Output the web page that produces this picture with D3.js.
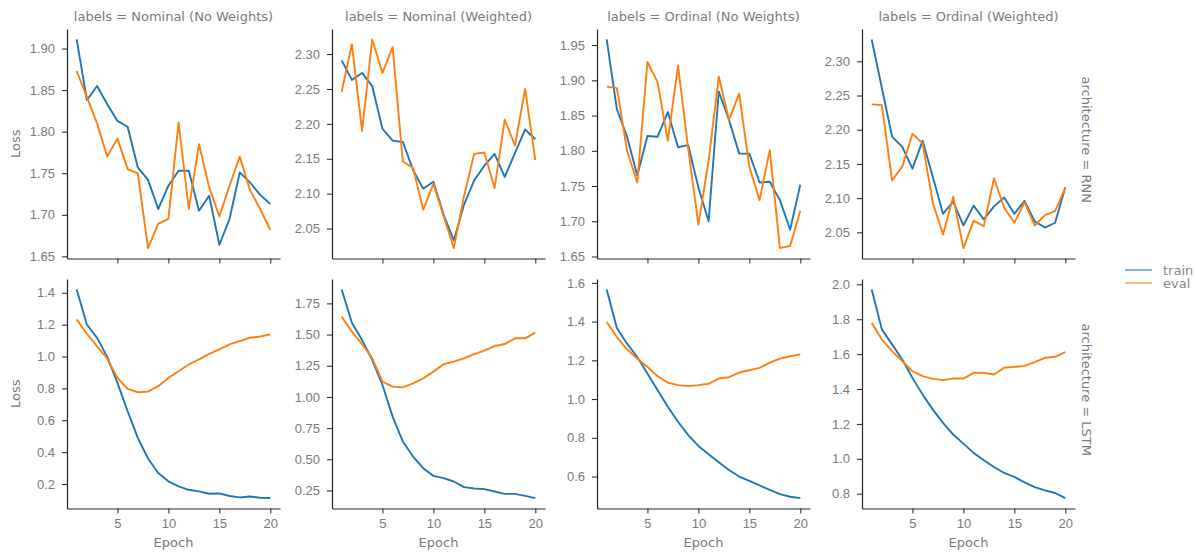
<!DOCTYPE html>
<html>
<head>
<meta charset="utf-8">
<script src="https://cdn.jsdelivr.net/npm/d3@7"></script>
<style>
  body { margin: 0; background: #fff; }
  svg { display: block; font-family: "DejaVu Sans", sans-serif; }
</style>
</head>
<body>
<svg id="chart" width="1196" height="553"></svg>
<script>
const epochs = [1, 2, 3, 4, 5, 6, 7, 8, 9, 10, 11, 12, 13, 14, 15, 16, 17, 18, 19, 20];
const xTicks = [5, 10, 15, 20];
const colNames = ["Nominal (No Weights)", "Nominal (Weighted)", "Ordinal (No Weights)", "Ordinal (Weighted)"];
const rowNames = ["RNN", "LSTM"];
const seriesNames = ["train", "eval"];

// RNN row
const rnnNomNoW_train = [1.911, 1.838, 1.855, 1.833, 1.813, 1.806, 1.757, 1.742, 1.707, 1.735, 1.753, 1.753, 1.705, 1.723, 1.664, 1.695, 1.751, 1.739, 1.724, 1.713];
const rnnNomNoW_eval  = [1.873, 1.842, 1.810, 1.770, 1.792, 1.755, 1.750, 1.660, 1.689, 1.695, 1.811, 1.707, 1.785, 1.733, 1.698, 1.735, 1.770, 1.730, 1.707, 1.682];
const rnnNomW_train   = [2.291, 2.263, 2.273, 2.254, 2.193, 2.176, 2.174, 2.134, 2.107, 2.117, 2.070, 2.033, 2.084, 2.119, 2.140, 2.157, 2.124, 2.158, 2.192, 2.178];
const rnnNomW_eval    = [2.246, 2.314, 2.190, 2.321, 2.273, 2.310, 2.146, 2.137, 2.077, 2.114, 2.068, 2.022, 2.096, 2.157, 2.159, 2.108, 2.206, 2.169, 2.250, 2.148];
const rnnOrdNoW_train = [1.958, 1.859, 1.820, 1.765, 1.821, 1.820, 1.855, 1.805, 1.808, 1.748, 1.700, 1.884, 1.844, 1.796, 1.796, 1.755, 1.756, 1.730, 1.688, 1.752];
const rnnOrdNoW_eval  = [1.891, 1.889, 1.800, 1.755, 1.926, 1.897, 1.814, 1.921, 1.803, 1.695, 1.786, 1.905, 1.844, 1.881, 1.777, 1.730, 1.801, 1.662, 1.665, 1.715];
const rnnOrdW_train   = [2.332, 2.261, 2.190, 2.175, 2.143, 2.184, 2.131, 2.077, 2.095, 2.060, 2.089, 2.069, 2.088, 2.101, 2.077, 2.096, 2.066, 2.057, 2.064, 2.116];
const rnnOrdW_eval    = [2.237, 2.236, 2.126, 2.146, 2.194, 2.180, 2.093, 2.047, 2.102, 2.027, 2.067, 2.059, 2.129, 2.086, 2.064, 2.094, 2.060, 2.075, 2.081, 2.115];

// LSTM row
const lstmNomNoW_train = [1.421, 1.201, 1.117, 0.998, 0.835, 0.657, 0.490, 0.360, 0.269, 0.217, 0.185, 0.164, 0.154, 0.139, 0.141, 0.125, 0.116, 0.122, 0.114, 0.112];
const lstmNomNoW_eval  = [1.233, 1.143, 1.065, 0.986, 0.866, 0.797, 0.776, 0.780, 0.814, 0.866, 0.908, 0.950, 0.982, 1.017, 1.045, 1.076, 1.097, 1.118, 1.126, 1.139];
const lstmNomW_train   = [1.862, 1.595, 1.456, 1.296, 1.096, 0.842, 0.642, 0.522, 0.429, 0.367, 0.349, 0.322, 0.277, 0.266, 0.261, 0.242, 0.223, 0.223, 0.207, 0.189];
const lstmNomW_eval    = [1.643, 1.523, 1.424, 1.309, 1.122, 1.083, 1.077, 1.109, 1.149, 1.203, 1.262, 1.283, 1.309, 1.344, 1.371, 1.408, 1.424, 1.470, 1.470, 1.515];
const lstmOrdNoW_train = [1.566, 1.367, 1.286, 1.217, 1.132, 1.046, 0.960, 0.883, 0.814, 0.758, 0.715, 0.674, 0.634, 0.600, 0.578, 0.554, 0.531, 0.509, 0.496, 0.489];
const lstmOrdNoW_eval  = [1.398, 1.320, 1.257, 1.209, 1.166, 1.118, 1.085, 1.072, 1.067, 1.072, 1.079, 1.106, 1.113, 1.137, 1.149, 1.161, 1.188, 1.209, 1.221, 1.231];
const lstmOrdW_train   = [1.971, 1.742, 1.656, 1.569, 1.464, 1.368, 1.282, 1.206, 1.139, 1.087, 1.034, 0.992, 0.953, 0.919, 0.896, 0.865, 0.838, 0.819, 0.804, 0.775];
const lstmOrdW_eval    = [1.780, 1.684, 1.617, 1.560, 1.502, 1.474, 1.458, 1.451, 1.460, 1.460, 1.493, 1.493, 1.483, 1.522, 1.527, 1.533, 1.554, 1.579, 1.585, 1.612];

// y tick labels per panel
const yTicksTop = [
  [1.65, 1.70, 1.75, 1.80, 1.85, 1.90],
  [2.05, 2.10, 2.15, 2.20, 2.25, 2.30],
  [1.65, 1.70, 1.75, 1.80, 1.85, 1.90, 1.95],
  [2.05, 2.10, 2.15, 2.20, 2.25, 2.30]
];
const yTicksBottom = [
  [0.2, 0.4, 0.6, 0.8, 1.0, 1.2, 1.4],
  [0.25, 0.50, 0.75, 1.00, 1.25, 1.50, 1.75],
  [0.6, 0.8, 1.0, 1.2, 1.4, 1.6],
  [0.8, 1.0, 1.2, 1.4, 1.6, 1.8, 2.0]
];
const yFormatBottom = [".1f", ".2f", ".1f", ".1f"];

const panels = [
  { row: 0, col: 0, train: rnnNomNoW_train, eval: rnnNomNoW_eval, ticks: yTicksTop[0], fmt: ".2f" },
  { row: 0, col: 1, train: rnnNomW_train, eval: rnnNomW_eval, ticks: yTicksTop[1], fmt: ".2f" },
  { row: 0, col: 2, train: rnnOrdNoW_train, eval: rnnOrdNoW_eval, ticks: yTicksTop[2], fmt: ".2f" },
  { row: 0, col: 3, train: rnnOrdW_train, eval: rnnOrdW_eval, ticks: yTicksTop[3], fmt: ".2f" },
  { row: 1, col: 0, train: lstmNomNoW_train, eval: lstmNomNoW_eval, ticks: yTicksBottom[0], fmt: yFormatBottom[0] },
  { row: 1, col: 1, train: lstmNomW_train, eval: lstmNomW_eval, ticks: yTicksBottom[1], fmt: yFormatBottom[1] },
  { row: 1, col: 2, train: lstmOrdNoW_train, eval: lstmOrdNoW_eval, ticks: yTicksBottom[2], fmt: yFormatBottom[2] },
  { row: 1, col: 3, train: lstmOrdW_train, eval: lstmOrdW_eval, ticks: yTicksBottom[3], fmt: yFormatBottom[3] }
];

const colors = { train: "#1f77b4", eval: "#ff7f0e" };
const svg = d3.select("#chart");

const panelW = 213, panelH = 229.5;
const lefts = [67, 332, 597, 862];
const tops = [29, 279];
const textColor = "#7a7a7a";
const fontSize = "13px";

function pad(lo, hi) {
  const r = hi - lo;
  return [lo - 0.05 * r, hi + 0.05 * r];
}

panels.forEach(p => {
  const x0 = lefts[p.col], y0 = tops[p.row];
  const g = svg.append("g").attr("transform", `translate(${x0},${y0})`);

  const x = d3.scaleLinear()
    .domain(pad(d3.min(epochs), d3.max(epochs)))
    .range([0, panelW]);
  const allVals = p.train.concat(p.eval);
  const y = d3.scaleLinear()
    .domain(pad(d3.min(allVals), d3.max(allVals)))
    .range([panelH, 0]);

  const xAxis = d3.axisBottom(x).tickValues(xTicks).tickSize(5).tickPadding(5).tickSizeOuter(0);
  if (p.row === 0) xAxis.tickFormat("");
  const gx = g.append("g").attr("transform", `translate(0,${panelH})`).call(xAxis);

  const gy = g.append("g")
    .call(d3.axisLeft(y).tickValues(p.ticks).tickFormat(d3.format(p.fmt)).tickSize(5).tickPadding(7).tickSizeOuter(0));

  [gx, gy].forEach(a => {
    a.select(".domain").attr("stroke", "#222").attr("stroke-width", 1.2);
    a.selectAll(".tick line").attr("stroke", "#222").attr("stroke-width", 1);
    a.selectAll(".tick text").attr("fill", textColor).style("font-size", fontSize);
  });

  const line = d3.line()
    .x((d, i) => x(epochs[i]))
    .y(d => y(d));

  seriesNames.forEach(s => {
    g.append("path")
      .datum(p[s])
      .attr("fill", "none")
      .attr("stroke", colors[s])
      .attr("stroke-width", 1.9)
      .attr("stroke-linejoin", "round")
      .attr("d", line);
  });

  if (p.row === 0) {
    g.append("text")
      .attr("x", panelW / 2).attr("y", -8)
      .attr("text-anchor", "middle")
      .attr("fill", textColor)
      .style("font-size", fontSize)
      .text(`labels = ${colNames[p.col]}`);
  } else {
    g.append("text")
      .attr("x", panelW / 2).attr("y", panelH + 38)
      .attr("text-anchor", "middle")
      .attr("fill", textColor)
      .style("font-size", fontSize)
      .text("Epoch");
  }

  if (p.col === 0) {
    g.append("text")
      .attr("transform", `translate(${15 - x0},${panelH / 2}) rotate(-90)`)
      .attr("text-anchor", "middle")
      .attr("dy", "0.35em")
      .attr("fill", textColor)
      .style("font-size", fontSize)
      .text("Loss");
  }

  if (p.col === 3) {
    g.append("text")
      .attr("transform", `translate(${1087 - x0},${panelH / 2 - 4}) rotate(90)`)
      .attr("text-anchor", "middle")
      .attr("dy", "0.35em")
      .attr("fill", textColor)
      .style("font-size", fontSize)
      .text(`architecture = ${rowNames[p.row]}`);
  }
});

// legend
const legend = svg.append("g").attr("transform", "translate(1125,270)");
seriesNames.forEach((s, i) => {
  const lg = legend.append("g").attr("transform", `translate(0,${i * 13})`);
  lg.append("line")
    .attr("x1", 0).attr("x2", 27)
    .attr("stroke", colors[s]).attr("stroke-width", 1.9).attr("opacity", 0.55);
  lg.append("text")
    .attr("x", 38).attr("dy", "0.35em")
    .attr("fill", "#888")
    .style("font-size", fontSize)
    .text(s);
});
</script>
</body>
</html>
